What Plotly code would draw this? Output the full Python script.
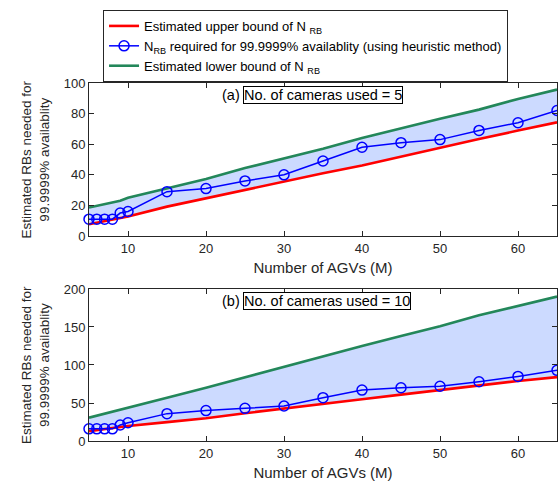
import plotly.graph_objects as go
from plotly.subplots import make_subplots

agvs = [5, 6, 7, 8, 9, 10, 15, 20, 25, 30, 35, 40, 45, 50, 55, 60, 65]

# (a) 5 cameras
upper5 = [7.7, 8.7, 9.7, 10.7, 11.7, 12.7, 19.2, 24.7, 30.2, 35.6, 41, 46.1, 52, 57.5, 63.4, 68.9, 74.3]
heur5 = [11, 11, 11, 11, 15, 16, 29, 31, 36, 40, 49, 58, 61, 63, 69, 74, 82]
lower5 = [18.6, 19.7, 20.8, 21.9, 23, 25, 31.3, 37.2, 44.4, 50.5, 57, 64, 70.6, 76.7, 82.6, 89.6, 95.7]

# (b) 10 cameras
upper10 = [13, 14.3, 15.7, 17, 18.4, 19.7, 24.8, 30, 36.5, 43, 49, 55, 61, 67, 73, 79, 84]
heur10 = [16, 16, 16, 16, 21, 24, 36, 40, 43, 46, 57, 67, 70, 72, 78, 85, 93]
lower10 = [30.7, 33.4, 36, 38.7, 41.5, 44.3, 57, 70, 84, 98, 111, 125, 138, 151, 165.5, 178, 190]

xticks = [10, 20, 30, 40, 50, 60]
yticks_a = [0, 20, 40, 60, 80, 100]
yticks_b = [0, 50, 100, 150, 200]

names = ["Estimated upper bound of N <sub>RB</sub>",
         "N<sub>RB</sub> required for 99.9999% availablity (using heuristic method)",
         "Estimated lower bound of N <sub>RB</sub>"]

RED = "#ff0000"
BLUE = "#0000ff"
GREEN = "#23875a"
FILL = "rgb(204,218,255)"
TXT = "#262626"
FONT = "Liberation Sans, Arial, sans-serif"

fig = make_subplots(rows=2, cols=1, vertical_spacing=0.148)

for row, up, he, lo in [(1, upper5, heur5, lower5), (2, upper10, heur10, lower10)]:
    first = row == 1
    fig.add_trace(go.Scatter(x=agvs + agvs[::-1], y=lo + up[::-1], fill="toself",
                             fillcolor=FILL, line=dict(width=0), mode="lines",
                             showlegend=False, hoverinfo="skip"), row=row, col=1)
    fig.add_trace(go.Scatter(x=agvs, y=up, mode="lines", line=dict(color=RED, width=2.6),
                             name=names[0], showlegend=first, legendrank=1), row=row, col=1)
    fig.add_trace(go.Scatter(x=agvs, y=lo, mode="lines", line=dict(color=GREEN, width=2.6),
                             name=names[2], showlegend=first, legendrank=3), row=row, col=1)
    fig.add_trace(go.Scatter(x=agvs, y=he, mode="lines+markers",
                             line=dict(color=BLUE, width=1.5),
                             marker=dict(symbol="circle-open", size=10, color=BLUE,
                                         line=dict(width=1.5, color=BLUE)),
                             name=names[1], showlegend=first, legendrank=2,
                             cliponaxis=False), row=row, col=1)

axis_common = dict(showline=True, linecolor=TXT, linewidth=1, mirror="ticks",
                   ticks="inside", ticklen=5, tickcolor=TXT, showgrid=False,
                   zeroline=False, tickfont=dict(size=13, color=TXT, family=FONT))

for r in (1, 2):
    fig.update_xaxes(range=[5, 65], tickvals=xticks, row=r, col=1,
                     title=dict(text="Number of AGVs (M)", standoff=7,
                                font=dict(size=15, color=TXT, family=FONT)),
                     **axis_common)
fig.update_yaxes(range=[0, 100], tickvals=yticks_a, row=1, col=1, **axis_common)
fig.update_yaxes(range=[0, 200], tickvals=yticks_b, row=2, col=1, **axis_common)

fig.update_layout(
    width=558, height=485,
    margin=dict(l=89, r=1, t=83, b=44, autoexpand=False),
    plot_bgcolor="white", paper_bgcolor="white",
    font=dict(family=FONT, color=TXT),
    legend=dict(x=0.030, y=1.204, xanchor="left", yanchor="top",
                bgcolor="white", bordercolor=TXT, borderwidth=1,
                font=dict(size=13, color="black", family=FONT),
                tracegroupgap=0, itemwidth=30),
)
fig.update_layout(xaxis=dict(domain=[0, 1]), yaxis=dict(domain=[0.5726, 1]),
                  xaxis2=dict(domain=[0, 1]), yaxis2=dict(domain=[0, 0.4246]))

ytitle = "Estimated RBs needed for<br>99.9999% availablity"
for yref in ("y domain", "y2 domain"):
    fig.add_annotation(text=ytitle, xref="paper", yref=yref, x=0, y=0.5,
                       xanchor="center", yanchor="middle", xshift=-53, textangle=-90,
                       showarrow=False, font=dict(size=13.5, color=TXT, family=FONT))

for xr, yr, label, text, ybox in [("x", "y", "(a)", "No. of cameras used = 5", 92.3),
                                  ("x2", "y2", "(b)", "No. of cameras used = 10", 184.5)]:
    fig.add_annotation(text=text, xref=xr, yref=yr, x=24.8, y=ybox, xanchor="left",
                       yanchor="middle", showarrow=False, bordercolor="black", borderwidth=1,
                       borderpad=0, bgcolor="white",
                       font=dict(size=14.5, color="black", family=FONT))
    fig.add_annotation(text=label, xref=xr, yref=yr, x=24.6, y=ybox, xanchor="right",
                       yanchor="middle", showarrow=False,
                       font=dict(size=14.5, color="black", family=FONT))

fig.write_html("out.html", config={"displayModeBar": False},
               post_script="document.body.style.margin='0';document.body.style.overflow='hidden';")
